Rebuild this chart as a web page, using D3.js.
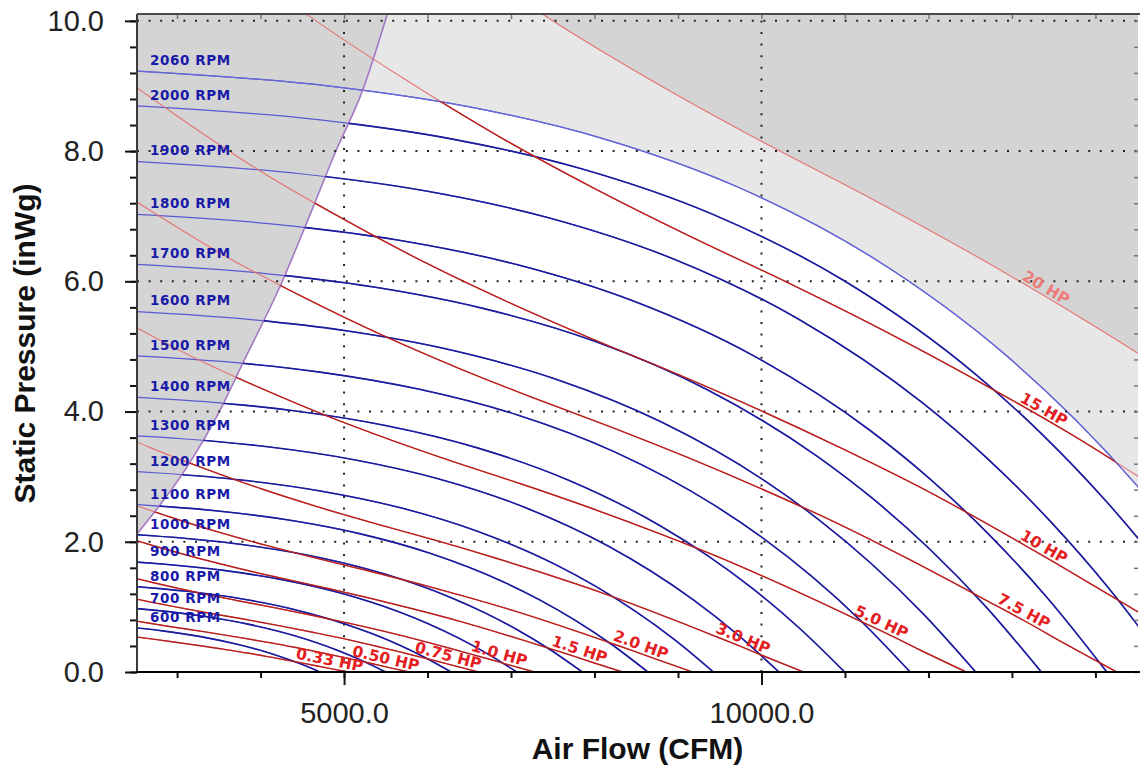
<!DOCTYPE html>
<html><head><meta charset="utf-8">
<script src="https://cdn.jsdelivr.net/npm/d3@7"></script>
<style>body{margin:0;background:#fff} svg{display:block}</style>
</head><body>
<svg id="chart" width="1140" height="771"></svg>
<script>
// ---------------- DATA ----------------
const xDomain = [2520, 14510];
const yDomain = [0, 10.09];
const xMajorTicks = [5000, 10000];
const xMinorTicks = [3000,4000,5000,6000,7000,8000,9000,10000,11000,12000,13000,14000];
const yMajorTicks = [0,2,4,6,8,10];
const yMinorTicks = [0,0.4,0.8,1.2,1.6,2,2.4,2.8,3.2,3.6,4,4.4,4.8,5.2,5.6,6,6.4,6.8,7.2,7.6,8,8.4,8.8,9.2,9.6,10];

const rpmSpeeds = [600,700,800,900,1000,1100,1200,1300,1400,1500,1600,1700,1800,1900,2000,2060];
const rpm600  = [[2520,0.676],[2827,0.632],[3299,0.540],[3770,0.411],[4006,0.330],[4241,0.235],[4477,0.126],[4712,0]];
const rpm700  = [[2520,0.973],[2749,0.946],[3299,0.860],[3848,0.735],[4398,0.560],[4673,0.449],[4948,0.320],[5223,0.171],[5498,0]];
const rpm800  = [[2520,1.310],[2827,1.277],[3142,1.236],[3770,1.124],[4398,0.961],[5027,0.731],[5341,0.586],[5655,0.418],[5969,0.223],[6283,0]];
const rpm900  = [[2520,1.687],[2827,1.658],[3534,1.564],[4241,1.422],[4948,1.216],[5655,0.925],[6008,0.742],[6362,0.528],[6715,0.282],[7069,0]];
const rpm1000 = [[2520,2.107],[3142,2.047],[3927,1.931],[4712,1.756],[5498,1.501],[6283,1.142],[6676,0.916],[7069,0.652],[7461,0.349],[7854,0]];
const rpm1100 = [[2520,2.570],[3456,2.477],[4320,2.337],[5184,2.125],[6048,1.816],[6912,1.382],[7343,1.108],[7775,0.789],[8207,0.422],[8639,0]];
const rpm1200 = [[2520,3.077],[2827,3.052],[3770,2.948],[4712,2.781],[5655,2.529],[6597,2.161],[7540,1.645],[8011,1.318],[8482,0.939],[8954,0.502],[9425,0]];
const rpm1300 = [[2520,3.626],[3063,3.582],[4084,3.459],[5105,3.264],[6126,2.968],[7147,2.537],[8168,1.931],[8679,1.547],[9189,1.103],[9700,0.589],[10210,0]];
const rpm1400 = [[2520,4.219],[3299,4.155],[4398,4.012],[5498,3.785],[6597,3.442],[7697,2.942],[8796,2.239],[9346,1.795],[9896,1.279],[10446,0.683],[10996,0]];
const rpm1500 = [[2520,4.856],[3534,4.769],[4712,4.606],[5891,4.345],[7069,3.951],[8247,3.377],[9425,2.570],[10014,2.060],[10603,1.468],[11192,0.784],[11781,0]];
const rpm1600 = [[2520,5.536],[3770,5.426],[5027,5.240],[6283,4.944],[7540,4.495],[8796,3.842],[10053,2.924],[10681,2.344],[11310,1.670],[11938,0.893],[12566,0]];
const rpm1700 = [[2520,6.260],[4006,6.126],[5341,5.916],[6676,5.581],[8011,5.075],[9346,4.338],[10681,3.301],[11349,2.646],[12017,1.885],[12684,1.008],[13352,0]];
const rpm1800 = [[2520,7.028],[4241,6.868],[5655,6.632],[7069,6.257],[8482,5.689],[9896,4.863],[11310,3.701],[12017,2.966],[12723,2.114],[13430,1.130],[14137,0]];
const rpm1900 = [[2520,7.839],[4477,7.652],[5969,7.390],[7461,6.972],[8954,6.339],[10446,5.418],[11938,4.124],[12684,3.305],[13430,2.355],[14177,1.259],[14923,0]];
const rpm2000 = [[2520,8.694],[4712,8.479],[6283,8.188],[7854,7.725],[9425,7.024],[10996,6.004],[12566,4.570],[13352,3.662],[14137,2.610],[14923,1.395],[15708,0]];
const rpm2060 = [[2520,9.228],[4854,8.995],[6472,8.687],[8090,8.196],[9708,7.452],[11325,6.369],[12943,4.848],[13752,3.885],[14561,2.768],[15370,1.480],[16179,0]];
const rpmCurves = [rpm600,rpm700,rpm800,rpm900,rpm1000,rpm1100,rpm1200,rpm1300,rpm1400,rpm1500,rpm1600,rpm1700,rpm1800,rpm1900,rpm2000,rpm2060];

const hpNames = ["0.33 HP","0.50 HP","0.75 HP","1.0 HP","1.5 HP","2.0 HP","3.0 HP","5.0 HP","7.5 HP","10 HP","15 HP","20 HP"];
const hp033 = [[2253,0.586],[2574,0.528],[2896,0.473],[3218,0.415],[3540,0.353],[3862,0.287],[4183,0.213],[4344,0.175],[4505,0.136],[4666,0.096],[4827,0.055],[5049,0]];
const hp050 = [[2210,0.851],[2579,0.768],[2947,0.692],[3316,0.620],[3684,0.544],[4052,0.463],[4421,0.376],[4789,0.280],[4973,0.229],[5158,0.178],[5342,0.126],[5526,0.072],[5780,0]];
const hp075 = [[2109,1.236],[2530,1.115],[2952,1.007],[3374,0.907],[3795,0.813],[4217,0.713],[4639,0.606],[5060,0.493],[5482,0.366],[5693,0.301],[5904,0.233],[6115,0.165],[6326,0.094],[6616,0]];
const hp100 = [[2321,1.497],[2785,1.351],[3249,1.219],[3714,1.099],[4178,0.985],[4642,0.864],[5106,0.735],[5570,0.597],[6035,0.444],[6267,0.364],[6499,0.282],[6731,0.200],[6963,0.114],[7283,0]];
const hp150 = [[2125,2.171],[2657,1.962],[3188,1.770],[3719,1.598],[4250,1.440],[4782,1.290],[5313,1.132],[5844,0.963],[6376,0.782],[6907,0.582],[7173,0.477],[7438,0.370],[7704,0.263],[7970,0.150],[8336,0]];
const hp200 = [[2339,2.630],[2924,2.377],[3509,2.144],[4094,1.936],[4678,1.744],[5263,1.563],[5848,1.371],[6433,1.166],[7018,0.947],[7602,0.705],[7895,0.578],[8187,0.448],[8480,0.318],[8772,0.181],[9175,0]];
const hp300 = [[2008,3.827],[2678,3.446],[3347,3.115],[4016,2.810],[4686,2.536],[5355,2.286],[6025,2.048],[6694,1.797],[7363,1.528],[8033,1.241],[8702,0.923],[9037,0.757],[9372,0.587],[9706,0.417],[10041,0.238],[10503,0]];
const hp500 = [[2001,5.651],[2381,5.380],[3175,4.845],[3969,4.378],[4762,3.950],[5556,3.566],[6350,3.213],[7143,2.879],[7937,2.526],[8731,2.148],[9524,1.745],[10318,1.298],[10715,1.065],[11112,0.825],[11509,0.586],[11906,0.334],[12453,0]];
const hp750 = [[2291,7.405],[2726,7.050],[3634,6.348],[4543,5.737],[5452,5.176],[6360,4.672],[7269,4.210],[8177,3.772],[9086,3.310],[9995,2.815],[10903,2.287],[11812,1.701],[12266,1.395],[12720,1.081],[13175,0.768],[13629,0.438],[14256,0]];
const hp1000 = [[2521,8.97],[3000,8.54],[4000,7.69],[5000,6.95],[6000,6.27],[7000,5.66],[8000,5.10],[9000,4.57],[10000,4.01],[11000,3.41],[12000,2.77],[13000,2.06],[13500,1.69],[14000,1.31],[14500,0.93],[15000,0.53],[15690,0]];
const hp1500 = [[3434,11.19],[4579,10.077],[5724,9.107],[6868,8.216],[8013,7.417],[9158,6.683],[10302,5.988],[11447,5.255],[12592,4.468],[13736,3.630],[14881,2.699]];
const hp2000 = [[6300,11.03],[7559,9.953],[8819,8.985],[10079,8.096],[11339,7.254],[12599,6.365],[13859,5.413],[15119,4.397]];
const hpCurves = [hp033,hp050,hp075,hp100,hp150,hp200,hp300,hp500,hp750,hp1000,hp1500,hp2000];
const hpLabelCfm = [4808,5479,6222,6832,7790,8521,9743,11395,13096,13335,13335,13359];

const surgeLine = [[2520,2.12],[3120,3.15],[3503,3.99],[3790,4.75],[4257,5.99],[4629,7.14],[4892,7.97],[5216,8.91],[5515,10.09]];

// ---------------- CHART ----------------
const svg = d3.select("#chart");
const x = d3.scaleLinear().domain(xDomain).range([137, 1138]);
const y = d3.scaleLinear().domain(yDomain).range([672, 15]);
const X0 = x(xDomain[0]), X1 = x(xDomain[1]), Y0 = y(0), Y1 = y(yDomain[1]);

const line = d3.line().x(d => x(d[0])).y(d => y(d[1])).curve(d3.curveMonotoneX);
const defs = svg.append("defs");
defs.append("clipPath").attr("id","clipPlot").append("rect")
  .attr("x",X0).attr("y",Y1).attr("width",X1-X0).attr("height",Y0-Y1);
const areaMax = d3.area().x(d => x(d[0])).y0(y(-1)).y1(d => y(d[1])).curve(d3.curveMonotoneX);
defs.append("clipPath").attr("id","clipBelowMax").append("path").attr("d", areaMax(rpm2060));
const sLast = surgeLine[surgeLine.length-1];
const rightSurge = line(surgeLine) + `L${x(sLast[0])},${y(12)}L${x(20000)},${y(12)}L${x(20000)},${y(-1)}L${x(surgeLine[0][0])},${y(-1)}Z`;
defs.append("clipPath").attr("id","clipRightSurge").append("path").attr("d", rightSurge);

// background regions
svg.append("rect").attr("x",X0).attr("y",Y1).attr("width",X1-X0).attr("height",Y0-Y1).attr("fill","#e7e7e7");
svg.append("g").attr("clip-path","url(#clipPlot)")
  .append("g").attr("clip-path","url(#clipBelowMax)")
  .append("g").attr("clip-path","url(#clipRightSurge)")
  .append("rect").attr("x",X0).attr("y",Y1).attr("width",X1-X0).attr("height",Y0-Y1).attr("fill","#ffffff");
const plotG = svg.append("g").attr("clip-path","url(#clipPlot)");
plotG.append("path")
  .attr("d", line(surgeLine) + `L${x(sLast[0])},${y(12)}L${x(2000)},${y(12)}L${x(2000)},${y(surgeLine[0][1])}Z`)
  .attr("fill","#d4d4d4");
const h20Last = hp2000[hp2000.length-1];
plotG.append("path")
  .attr("d", line(hp2000) + `L${x(16000)},${y(h20Last[1])}L${x(16000)},${y(12)}L${x(hp2000[0][0])},${y(12)}Z`)
  .attr("fill","#d4d4d4");

// dotted grid
const gridG = svg.append("g").attr("stroke","#222").attr("stroke-width",2).attr("stroke-dasharray","2,9.6");
xMajorTicks.forEach(v => gridG.append("line").attr("x1",x(v)).attr("x2",x(v)).attr("y1",Y0).attr("y2",Y1));
yMajorTicks.filter(v => v > 0).forEach(v => gridG.append("line").attr("x1",X0).attr("x2",X1).attr("y1",y(v)).attr("y2",y(v)));

// light (outside operating region) curves
const lightG = plotG.append("g").attr("fill","none");
rpmCurves.forEach(c => lightG.append("path").attr("d", line(c)).attr("stroke","#5a5ad2").attr("stroke-width",1.2));
hpCurves.forEach(c => lightG.append("path").attr("d", line(c)).attr("stroke","#e57373").attr("stroke-width",1.1));

// dark curves inside operating region
const opG = svg.append("g").attr("clip-path","url(#clipPlot)")
  .append("g").attr("clip-path","url(#clipBelowMax)")
  .append("g").attr("clip-path","url(#clipRightSurge)")
  .append("g").attr("fill","none");
rpmCurves.slice(0,-1).forEach(c => opG.append("path").attr("d", line(c)).attr("stroke","#1c1c9c").attr("stroke-width",1.6));
hpCurves.slice(0,-1).forEach(c => opG.append("path").attr("d", line(c)).attr("stroke","#b8201e").attr("stroke-width",1.4));

// max rpm and surge line
plotG.append("path").attr("d", line(rpm2060)).attr("fill","none").attr("stroke","#6767d6").attr("stroke-width",1.3);
plotG.append("path").attr("d", line(surgeLine)).attr("fill","none").attr("stroke","#a476c4").attr("stroke-width",1.6);

// RPM labels
const rpmLabG = svg.append("g").attr("font-family","'DejaVu Sans', sans-serif").attr("font-weight","bold")
  .attr("font-size",13.5).attr("fill","#1a1aa8").attr("letter-spacing",0.6);
rpmCurves.forEach((c,i) => {
  rpmLabG.append("text").attr("x", x(c[0][0]) + 13).attr("y", y(c[0][1]) - 11).attr("dy","0.36em")
    .text(rpmSpeeds[i] + " RPM");
});

// HP labels
function pointAt(c, v){
  for (let i = 0; i < c.length-1; i++){
    if (v >= c[i][0] && v <= c[i+1][0]){
      const t = (v - c[i][0]) / (c[i+1][0] - c[i][0]);
      const px0 = x(c[i][0]), py0 = y(c[i][1]), px1 = x(c[i+1][0]), py1 = y(c[i+1][1]);
      return [px0 + t*(px1-px0), py0 + t*(py1-py0), Math.atan2(py1-py0, px1-px0)*180/Math.PI];
    }
  }
  return [x(v), y(0), 0];
}
const hpLabG = svg.append("g").attr("font-family","'DejaVu Sans', sans-serif").attr("font-weight","bold").attr("font-size",15.5);
hpCurves.forEach((c,i) => {
  const [px,py,a] = pointAt(c, hpLabelCfm[i]);
  hpLabG.append("text").attr("transform",`translate(${px},${py}) rotate(${a})`)
    .attr("text-anchor","middle").attr("y",-3)
    .attr("fill", i === hpCurves.length-1 ? "#ee7a7a" : "#e3201f")
    .text(hpNames[i]);
});

// axes
const axG = svg.append("g").attr("font-family","'Liberation Sans', Arial, sans-serif");
const yMinorAx = axG.append("g").attr("transform",`translate(${X0},0)`)
  .call(d3.axisLeft(y).tickValues(yMinorTicks).tickSize(7).tickFormat(""));
const yMajorAx = axG.append("g").attr("transform",`translate(${X0},0)`)
  .call(d3.axisLeft(y).tickValues(yMajorTicks).tickSize(12).tickPadding(21).tickFormat(d3.format(".1f")));
const xMinorAx = axG.append("g").attr("transform",`translate(0,${Y0})`)
  .call(d3.axisBottom(x).tickValues(xMinorTicks).tickSize(6).tickFormat(""));
const xMajorAx = axG.append("g").attr("transform",`translate(0,${Y0})`)
  .call(d3.axisBottom(x).tickValues(xMajorTicks).tickSize(13).tickPadding(17).tickFormat(d3.format(".1f")));
const topAx = axG.append("g").attr("transform",`translate(0,${Y1})`)
  .call(d3.axisBottom(x).tickValues(xMinorTicks).tickSize(4).tickFormat(""));
const rightAx = axG.append("g").attr("transform",`translate(${X1},0)`)
  .call(d3.axisLeft(y).tickValues(yMinorTicks).tickSize(4).tickFormat(""));
[yMinorAx,yMajorAx,xMinorAx,xMajorAx,topAx,rightAx].forEach(g => g.select(".domain").remove());
[yMinorAx,yMajorAx,xMinorAx,xMajorAx].forEach(g => g.selectAll(".tick line").attr("stroke","#111").attr("stroke-width",2));
[topAx,rightAx].forEach(g => g.selectAll(".tick line").attr("stroke","#777").attr("stroke-width",1.5));
[yMajorAx,xMajorAx].forEach(g => g.selectAll(".tick text").attr("font-size",29).attr("fill","#222").attr("font-family","'Liberation Sans', Arial, sans-serif"));

svg.append("line").attr("x1",X0).attr("x2",X0).attr("y1",Y1-1).attr("y2",Y0).attr("stroke","#3a3a3a").attr("stroke-width",2);
svg.append("line").attr("x1",X0-1).attr("x2",1140).attr("y1",Y0).attr("y2",Y0).attr("stroke","#000").attr("stroke-width",2);
svg.append("line").attr("x1",X0).attr("x2",1140).attr("y1",Y1-1).attr("y2",Y1-1).attr("stroke","#4a4a4a").attr("stroke-width",2);

// titles
svg.append("text").attr("x",(X0+X1)/2).attr("y",759).attr("text-anchor","middle")
  .attr("font-family","'Liberation Sans', Arial, sans-serif").attr("font-weight","bold").attr("font-size",30).attr("fill","#111")
  .text("Air Flow (CFM)");
svg.append("text").attr("transform",`translate(35,${(Y0+Y1)/2}) rotate(-90)`).attr("text-anchor","middle")
  .attr("font-family","'Liberation Sans', Arial, sans-serif").attr("font-weight","bold").attr("font-size",30).attr("fill","#111")
  .text("Static Pressure (inWg)");
</script>
</body></html>
